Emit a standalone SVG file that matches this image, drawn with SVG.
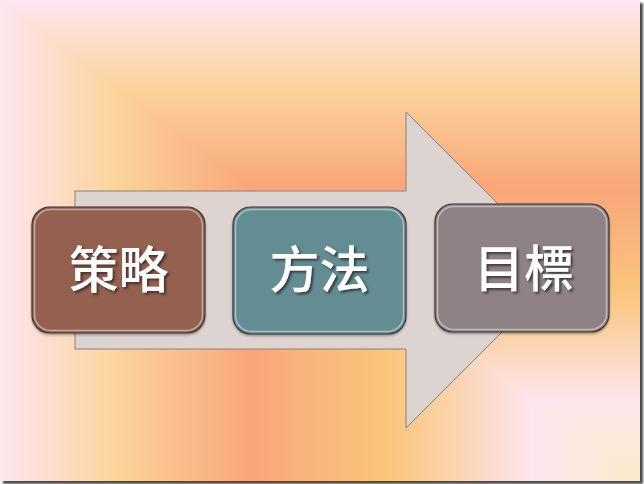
<svg xmlns="http://www.w3.org/2000/svg" width="644" height="484" viewBox="0 0 644 484">
  <defs>
    <linearGradient id="gx" gradientUnits="userSpaceOnUse" x1="640" y1="0" x2="0" y2="0">
      <stop offset="0" stop-color="#FCEBC9"/>
      <stop offset="0.17" stop-color="#FDE4EE"/>
      <stop offset="0.39" stop-color="#FAC57C"/>
      <stop offset="0.61" stop-color="#F9A67A"/>
      <stop offset="0.82" stop-color="#FBD49C"/>
      <stop offset="1" stop-color="#FDE5F0"/>
    </linearGradient>
    <linearGradient id="gy" gradientUnits="userSpaceOnUse" x1="0" y1="481" x2="0" y2="0">
      <stop offset="0" stop-color="#FCEBC9"/>
      <stop offset="0.17" stop-color="#FDE4EE"/>
      <stop offset="0.39" stop-color="#FAC57C"/>
      <stop offset="0.61" stop-color="#F9A67A"/>
      <stop offset="0.82" stop-color="#FBD49C"/>
      <stop offset="1" stop-color="#FDE5F0"/>
    </linearGradient>
    <filter id="ts" x="-20%" y="-20%" width="140%" height="140%">
      <feDropShadow dx="2" dy="2" stdDeviation="1" flood-color="#2a2222" flood-opacity="0.75"/>
    </filter>
    <filter id="bs" x="-10%" y="-10%" width="120%" height="125%">
      <feDropShadow dx="0" dy="1.5" stdDeviation="1.2" flood-color="#000" flood-opacity="0.35"/>
    </filter>
    <filter id="fs" x="-2%" y="-2%" width="104%" height="104%">
      <feGaussianBlur stdDeviation="1"/>
    </filter>
  </defs>
  <style>
    .box { stroke: #3f3434; stroke-width: 1.2; }
    .bevel { fill: none; stroke: #ffffff; stroke-opacity: 0.45; stroke-width: 1.5; }
    .lbl { font-family: "Noto Sans CJK TC", "Noto Sans CJK SC", sans-serif; font-size: 50px; font-weight: 500; fill: #ffffff; text-anchor: middle; }
  </style>

  <rect x="0" y="0" width="644" height="484" fill="#ffffff"/>
  <rect x="3" y="3" width="640" height="481" fill="#4a4a4a" filter="url(#fs)"/>
  <g id="background">
    <rect x="0" y="0" width="640" height="481" fill="url(#gx)"/>
    <polygon points="0,0 640,0 640,481" fill="url(#gy)"/>
  </g>

  <g id="connectors">
    <polygon id="arrow" points="75,191 406,191 406,112 564,270 406,428 406,349 75,349" fill="#DDD3D0" stroke="#8C7F7A" stroke-width="1"/>
  </g>

  <g id="node-strategy">
    <rect class="box" x="32" y="207" width="173" height="126" rx="18" fill="#94604F" filter="url(#bs)"/>
    <rect class="bevel" x="34.5" y="209.5" width="168" height="121" rx="16"/>
    <text class="lbl" x="118.5" y="288" filter="url(#ts)">策略</text>
  </g>

  <g id="node-method">
    <rect class="box" x="233" y="207" width="173" height="127" rx="18" fill="#638D93" filter="url(#bs)"/>
    <rect class="bevel" x="235.5" y="209.5" width="168" height="122" rx="16"/>
    <text class="lbl" x="319.5" y="288" filter="url(#ts)">方法</text>
  </g>

  <g id="node-goal">
    <rect class="box" x="435" y="204" width="174" height="128" rx="18" fill="#8E8285" filter="url(#bs)"/>
    <rect class="bevel" x="437.5" y="206.5" width="169" height="123" rx="16"/>
    <text class="lbl" x="524" y="287" filter="url(#ts)">目標</text>
  </g>
</svg>
